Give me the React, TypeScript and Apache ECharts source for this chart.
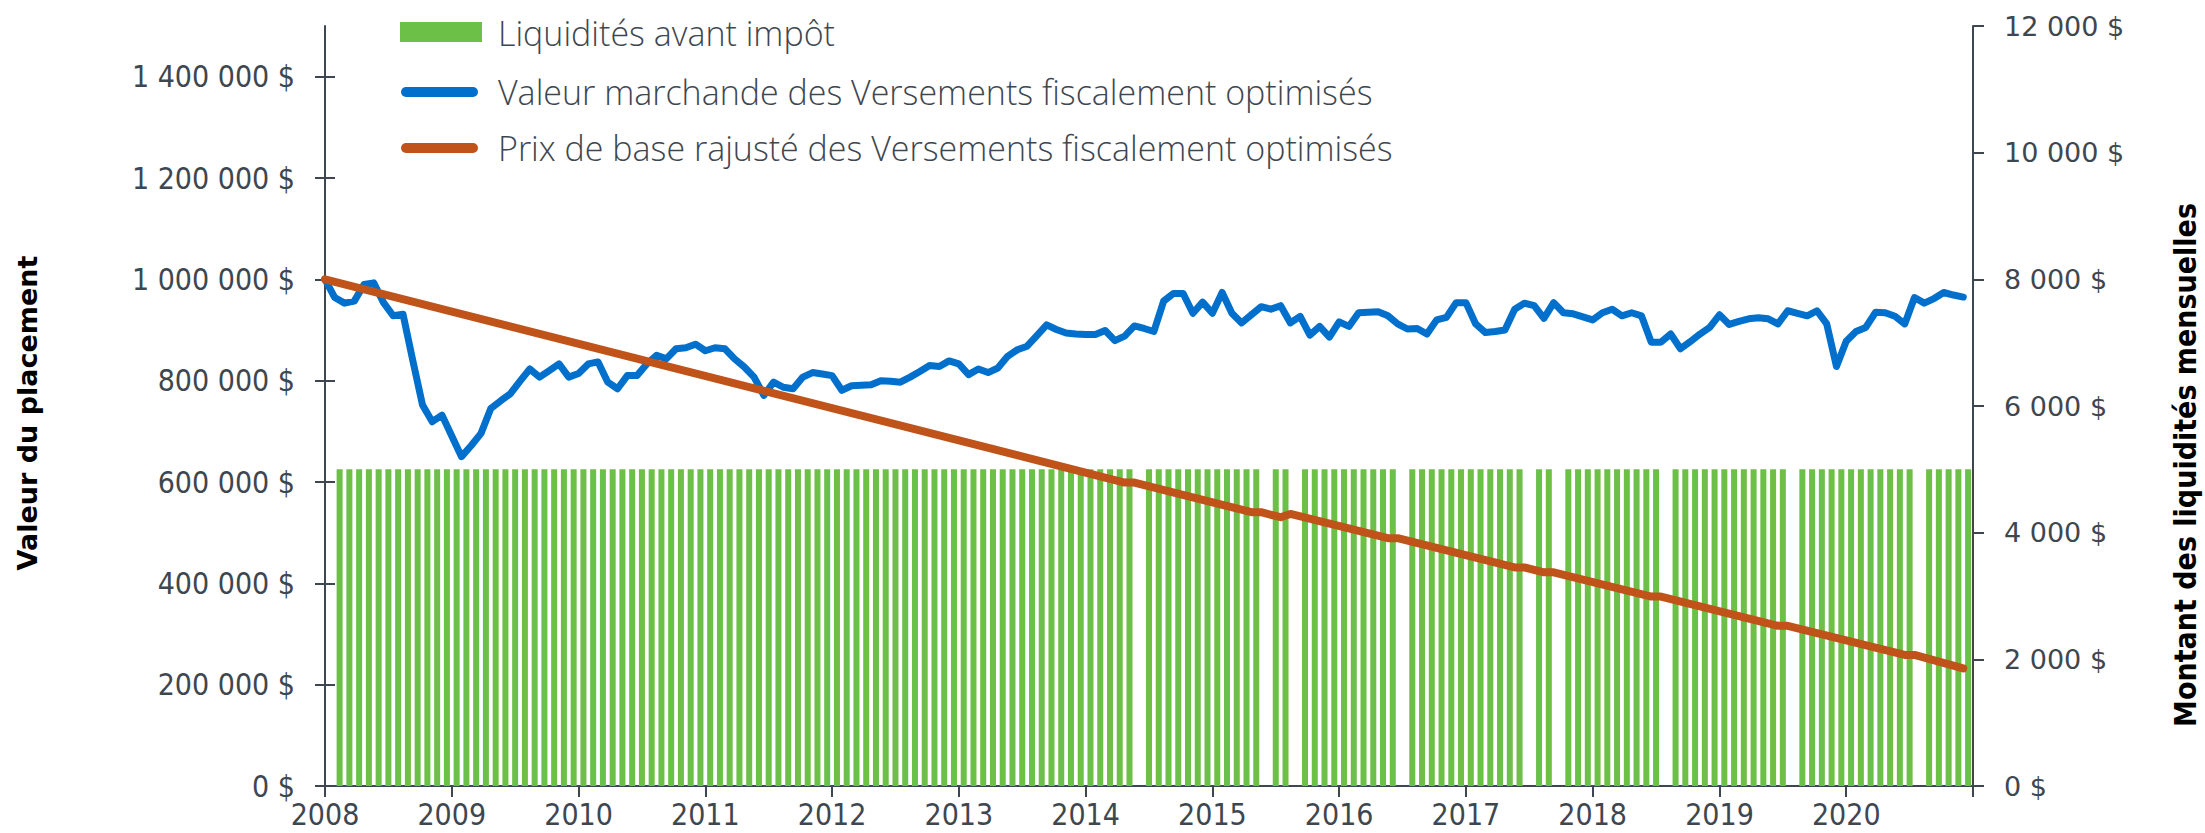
import React, { useEffect, useRef } from "react";
import * as echarts from "echarts";

// ---- data ----
const YEAR_LABELS = ["2008", "2009", "2010", "2011", "2012", "2013", "2014", "2015", "2016", "2017", "2018", "2019", "2020"];
const PERIODS_PER_YEAR = 13;
const AXIS_END = 169;

const LEFT_TICKS = [0, 200000, 400000, 600000, 800000, 1000000, 1200000, 1400000];
const LEFT_MAX = 1500000;
const RIGHT_MAX = 12000;
const RIGHT_STEP = 2000;

// Liquidités avant impôt (one row per year, 13 periods)
const cashFlow = [
  [0, 5000, 5000, 5000, 5000, 5000, 5000, 5000, 5000, 5000, 5000, 5000, 5000],
  [5000, 5000, 5000, 5000, 5000, 5000, 5000, 5000, 5000, 5000, 5000, 5000, 5000],
  [5000, 5000, 5000, 5000, 5000, 5000, 5000, 5000, 5000, 5000, 5000, 5000, 5000],
  [5000, 5000, 5000, 5000, 5000, 5000, 5000, 5000, 5000, 5000, 5000, 5000, 5000],
  [5000, 5000, 5000, 5000, 5000, 5000, 5000, 5000, 5000, 5000, 5000, 5000, 5000],
  [5000, 5000, 5000, 5000, 5000, 5000, 5000, 5000, 5000, 5000, 5000, 5000, 5000],
  [5000, 5000, 5000, 5000, 5000, 0, 5000, 5000, 5000, 5000, 5000, 5000, 5000],
  [5000, 5000, 5000, 5000, 5000, 0, 5000, 5000, 0, 5000, 5000, 5000, 5000],
  [5000, 5000, 5000, 5000, 5000, 5000, 0, 5000, 5000, 5000, 5000, 5000, 5000],
  [5000, 5000, 5000, 5000, 5000, 5000, 0, 5000, 5000, 0, 5000, 5000, 5000],
  [5000, 5000, 5000, 5000, 5000, 5000, 5000, 0, 5000, 5000, 5000, 5000, 5000],
  [5000, 5000, 5000, 5000, 5000, 5000, 5000, 0, 5000, 5000, 5000, 5000, 5000],
  [5000, 5000, 5000, 5000, 5000, 5000, 5000, 0, 5000, 5000, 5000, 5000, 5000],
];

// Valeur marchande (one row per year, 13 periods)
const marketValue = [
  [1000000, 964000, 953000, 957000, 990000, 993000, 954000, 928000, 931000, 840000, 752000, 719000, 732000],
  [691000, 650000, 672000, 696000, 745000, 760000, 774000, 799000, 823000, 807000, 820000, 833000, 807000],
  [814000, 833000, 837000, 797000, 784000, 810000, 810000, 833000, 850000, 843000, 863000, 865000, 872000],
  [859000, 865000, 863000, 843000, 827000, 807000, 771000, 797000, 787000, 784000, 807000, 816000, 813000],
  [810000, 781000, 790000, 791000, 792000, 800000, 799000, 797000, 807000, 818000, 830000, 828000, 839000],
  [833000, 812000, 823000, 816000, 825000, 848000, 861000, 868000, 889000, 910000, 901000, 894000, 892000],
  [891000, 891000, 899000, 879000, 888000, 908000, 903000, 897000, 957000, 972000, 972000, 933000, 955000],
  [933000, 974000, 933000, 914000, 930000, 946000, 941000, 948000, 914000, 927000, 890000, 907000, 886000],
  [916000, 907000, 934000, 935000, 936000, 928000, 912000, 902000, 903000, 892000, 920000, 925000, 954000],
  [954000, 912000, 895000, 897000, 900000, 941000, 953000, 948000, 923000, 954000, 934000, 932000, 926000],
  [920000, 934000, 941000, 928000, 934000, 928000, 876000, 876000, 892000, 863000, 877000, 892000, 905000],
  [930000, 911000, 917000, 922000, 924000, 922000, 912000, 938000, 933000, 928000, 938000, 912000, 828000],
  [878000, 897000, 905000, 935000, 934000, 927000, 912000, 964000, 953000, 962000, 974000, 969000, 965000],
];

// Prix de base rajusté: [period, value] at the points where the slope changes
const adjustedCostBase = [
  [0, 1000000], [82, 599000], [83, 599000], [95, 540300], [96, 540300], [98, 530500], [99, 537000],
  [109, 489000], [110, 489000], [122, 431400], [123, 431400], [125, 421800], [126, 421800],
  [136, 373800], [137, 373800], [149, 316200], [150, 316200], [162, 258600], [163, 258600], [168, 232000],
];

const LEGEND = [
  "Liquidités avant impôt",
  "Valeur marchande des Versements fiscalement optimisés",
  "Prix de base rajusté des Versements fiscalement optimisés",
];

// ---- styles ----
const GREEN = "#6CBF47";
const BLUE = "#0070CC";
const ORANGE = "#BF531A";
const AXIS = "#3E4750";
const TEXT = "#3E4750";
const COND = "'DejaVu Sans Condensed', 'Liberation Sans Narrow', sans-serif";
const LIGHT = "'Open Sans', 'Noto Sans', sans-serif";
const WIDE = "'DejaVu Sans', sans-serif";

const fmt = (v: number) => String(Math.round(v)).replace(/\B(?=(\d{3})+(?!\d))/g, " ") + " $";

export default function App() {
  const ref = useRef<HTMLDivElement>(null);
  useEffect(() => {
    document.body.style.margin = "0";
    const chart = echarts.init(ref.current!, undefined, { renderer: "svg" });
    const bars = cashFlow.flat().map((v, j) => [j + 0.5, v]);
    const mv = marketValue.flat().map((v, k) => [k, v]);
    const option: any = {
      animation: false,
      grid: { left: 325, right: 232, top: 26, bottom: 47, containLabel: false },
      xAxis: {
        type: "value",
        min: 0,
        max: AXIS_END,
        interval: PERIODS_PER_YEAR,
        axisLine: { show: true, onZero: false, lineStyle: { color: AXIS, width: 2 } },
        axisTick: { show: true, length: 11, lineStyle: { color: AXIS, width: 2 } },
        splitLine: { show: false },
        axisLabel: {
          margin: 13,
          color: TEXT,
          fontFamily: COND,
          fontWeight: 300,
          fontSize: 30,
          formatter: (v: number) => YEAR_LABELS[Math.round(v / PERIODS_PER_YEAR)] ?? "",
        },
      },
      yAxis: [
        {
          type: "value",
          position: "left",
          min: 0,
          max: LEFT_MAX,
          interval: 200000,
          axisLine: { show: true, lineStyle: { color: AXIS, width: 2 } },
          axisTick: { show: true, length: 10, customValues: LEFT_TICKS, lineStyle: { color: AXIS, width: 2 } },
          splitLine: { show: false },
          axisLabel: {
            margin: 30,
            color: TEXT,
            fontFamily: COND,
            fontWeight: 300,
            fontSize: 30,
            customValues: LEFT_TICKS,
            formatter: (v: number) => (v > 1400000 ? "" : fmt(v)),
          },
        },
        {
          type: "value",
          position: "right",
          min: 0,
          max: RIGHT_MAX,
          interval: RIGHT_STEP,
          axisLine: { show: true, lineStyle: { color: AXIS, width: 2 } },
          axisTick: { show: true, length: 11, lineStyle: { color: AXIS, width: 2 } },
          splitLine: { show: false },
          axisLabel: { margin: 31, color: TEXT, fontFamily: WIDE, fontWeight: "normal", fontSize: 27, formatter: fmt },
        },
        {
          type: "value",
          position: "left",
          min: 0,
          max: LEFT_MAX,
          interval: 200000,
          axisLine: { show: false },
          axisTick: { show: true, inside: true, length: 10, customValues: LEFT_TICKS, lineStyle: { color: AXIS, width: 2 } },
          axisLabel: { show: false },
          splitLine: { show: false },
        },
      ],
      series: [
        {
          name: LEGEND[0],
          type: "bar",
          yAxisIndex: 1,
          data: bars,
          barWidth: 6,
          itemStyle: { color: GREEN },
          silent: true,
        },
        {
          name: LEGEND[1],
          type: "line",
          yAxisIndex: 0,
          data: mv,
          showSymbol: false,
          symbol: "none",
          lineStyle: { color: BLUE, width: 7, cap: "round", join: "round" },
          silent: true,
        },
        {
          name: LEGEND[2],
          type: "line",
          yAxisIndex: 0,
          data: adjustedCostBase,
          showSymbol: false,
          symbol: "none",
          lineStyle: { color: ORANGE, width: 8, cap: "round", join: "round" },
          silent: true,
        },
      ],
      graphic: [
        { type: "rect", shape: { x: 400, y: 22, width: 82, height: 20 }, style: { fill: GREEN } },
        { type: "text", x: 498, y: 33, style: { text: LEGEND[0], fill: TEXT, font: `300 34px ${LIGHT}`, verticalAlign: "middle", align: "left" } },
        { type: "line", shape: { x1: 406, y1: 92, x2: 473, y2: 92 }, style: { stroke: BLUE, lineWidth: 10, lineCap: "round" } },
        { type: "text", x: 498, y: 92, style: { text: LEGEND[1], fill: TEXT, font: `300 34px ${LIGHT}`, verticalAlign: "middle", align: "left" } },
        { type: "line", shape: { x1: 406, y1: 148, x2: 473, y2: 148 }, style: { stroke: ORANGE, lineWidth: 10, lineCap: "round" } },
        { type: "text", x: 498, y: 148, style: { text: LEGEND[2], fill: TEXT, font: `300 34px ${LIGHT}`, verticalAlign: "middle", align: "left" } },
        {
          type: "text", x: 27, y: 413, rotation: Math.PI / 2,
          style: { text: "Valeur du placement", fill: "#000", font: `bold 27px ${WIDE}`, align: "center", verticalAlign: "middle" },
        },
        {
          type: "text", x: 2185, y: 465, rotation: Math.PI / 2,
          style: { text: "Montant des liquidités mensuelles", fill: "#000", font: `bold 30px ${COND}`, align: "center", verticalAlign: "middle" },
        },
      ],
    };
    chart.setOption(option);
    return () => chart.dispose();
  }, []);
  return <div ref={ref} style={{ width: 2205, height: 833 }} />;
}
